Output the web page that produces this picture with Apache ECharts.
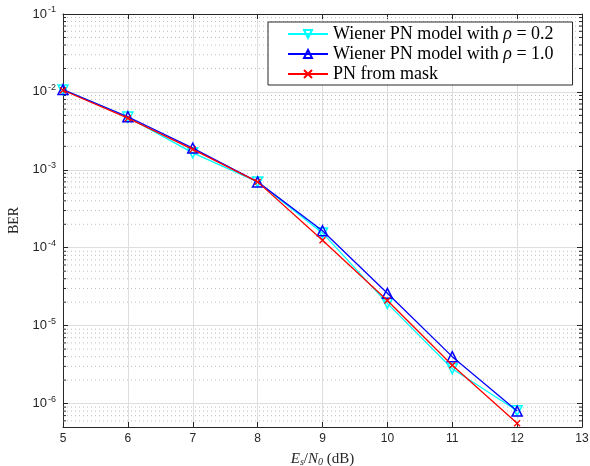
<!DOCTYPE html>
<html><head><meta charset="utf-8">
<script src="https://cdn.jsdelivr.net/npm/echarts@6/dist/echarts.min.js"></script>
<style>html,body{margin:0;padding:0;background:#fff}#c{width:590px;height:466px}</style>
</head><body><div id="c"></div>
<script>
const snr = [5, 6, 7, 8, 9, 10, 11, 12];
const berRho02 = [1.06e-2, 4.75e-3, 1.65e-3, 7.0e-4, 1.55e-4, 1.93e-5, 2.8e-6, 8.1e-7];
const berRho10 = [1.07e-2, 4.8e-3, 1.9e-3, 7.0e-4, 1.65e-4, 2.6e-5, 4.0e-6, 8.0e-7];
const berMask = [1.05e-2, 4.6e-3, 1.83e-3, 7.0e-4, 1.25e-4, 2.1e-5, 3.1e-6, 5.6e-7];
const seriesNames = ['Wiener PN model with \u03c1 = 0.2', 'Wiener PN model with \u03c1 = 1.0', 'PN from mask'];
const xMin = 5, xMax = 13;
const yMin = 5e-7, yMax = 1e-1;
const minorMantissas = [2, 3, 4, 5, 6, 7, 8, 9];
const decades = [-7, -6, -5, -4, -3, -2];

const minorVals = [];
decades.forEach(d => minorMantissas.forEach(m => {
  const v = m * Math.pow(10, d);
  if (v > yMin && v < yMax) minorVals.push(+v.toPrecision(3));
}));

const axisColor = '#262626';
const serif = '"Liberation Serif", "DejaVu Serif", serif';
const sans = '"Liberation Sans", Arial, Helvetica, sans-serif';

function pair(ys) { return snr.map((x, i) => [x, ys[i]]); }

const chart = echarts.init(document.getElementById('c'), null, {renderer: 'canvas'});
const yLabel = v => {
  const e = Math.round(Math.log10(v));
  return '{b|10}{s|' + e + '}';
};
function renderMinor(params, api) {
  const v = api.value(1);
  const a = api.coord([xMin, v]);
  const b = api.coord([xMax, v]);
  return {
    type: 'group',
    children: [
      {type: 'line', shape: {x1: a[0], y1: a[1], x2: b[0], y2: b[1]},
       style: {stroke: '#bebebe', lineWidth: 1, lineDash: [1, 3]}},
      {type: 'line', shape: {x1: a[0], y1: a[1], x2: a[0] + 3, y2: a[1]},
       style: {stroke: axisColor, lineWidth: 1}},
      {type: 'line', shape: {x1: b[0] - 3, y1: b[1], x2: b[0], y2: b[1]},
       style: {stroke: axisColor, lineWidth: 1}}
    ]
  };
}
chart.setOption({
  animation: false,
  backgroundColor: '#fff',
  grid: {left: 63, right: 8, top: 14, bottom: 39, containLabel: false, outerBoundsMode: 'none'},
  xAxis: [{
    type: 'value', min: xMin, max: xMax, interval: 1, position: 'bottom',
    axisLine: {show: true, onZero: false, lineStyle: {color: axisColor, width: 1}},
    axisTick: {show: true, inside: true, length: 5, lineStyle: {color: axisColor}},
    axisLabel: {color: axisColor, fontSize: 12, fontFamily: sans, margin: 6},
    splitLine: {show: true, lineStyle: {color: '#dedede', width: 1}},
    name: '{i|E}{sb|s}{n|/}{i|N}{sb|0}{n| (dB)}',
    nameLocation: 'middle', nameGap: 24,
    nameTextStyle: {
      rich: {
        i: {fontFamily: serif, fontStyle: 'italic', fontSize: 15, color: axisColor},
        n: {fontFamily: serif, fontSize: 15, color: axisColor},
        sb: {fontFamily: serif, fontStyle: 'italic', fontSize: 10, color: axisColor, padding: [6, 0, 0, 0]}
      }
    }
  }, {
    type: 'value', min: xMin, max: xMax, interval: 1, position: 'top',
    axisLine: {show: true, onZero: false, lineStyle: {color: axisColor, width: 1}},
    axisTick: {show: true, inside: true, length: 5, lineStyle: {color: axisColor}},
    axisLabel: {show: false}, splitLine: {show: false}
  }],
  yAxis: [{
    type: 'log', logBase: 10, min: yMin, max: yMax, position: 'left',
    axisLine: {show: true, onZero: false, lineStyle: {color: axisColor, width: 1}},
    axisTick: {show: true, inside: true, length: 5, lineStyle: {color: axisColor}},
    axisLabel: {
      showMinLabel: false, margin: 7, formatter: yLabel,
      rich: {
        b: {fontFamily: sans, fontSize: 13, color: axisColor},
        s: {fontFamily: sans, fontSize: 9, color: axisColor, padding: [0, 0, 9, 1]}
      }
    },
    splitLine: {show: true, lineStyle: {color: '#dedede', width: 1}},
    name: 'BER', nameLocation: 'middle', nameGap: 36, nameRotate: 90,
    nameTextStyle: {fontFamily: serif, fontSize: 14, color: axisColor}
  }, {
    type: 'log', logBase: 10, min: yMin, max: yMax, position: 'right',
    axisLine: {show: true, onZero: false, lineStyle: {color: axisColor, width: 1}},
    axisTick: {show: true, inside: true, length: 5, lineStyle: {color: axisColor}},
    axisLabel: {show: false}, splitLine: {show: false}
  }],
  legend: {
    orient: 'vertical', left: 268, top: 22,
    backgroundColor: '#fff', borderColor: axisColor, borderWidth: 1,
    padding: [3, 19, 2, 19], itemGap: 2, itemWidth: 40, itemHeight: 10,
    data: seriesNames,
    textStyle: {
      fontFamily: serif, fontSize: 18, color: '#000',
      rich: {
        t: {fontFamily: serif, fontSize: 18, color: '#000'},
        g: {fontFamily: serif, fontSize: 18, fontStyle: 'italic', color: '#000'}
      }
    },
    formatter: n => {
      const parts = n.split('\u03c1');
      return parts.length > 1 ? '{t|' + parts[0] + '}{g|\u03c1}{t|' + parts[1] + '}' : '{t|' + n + '}';
    }
  },
  series: [{
    name: 'minorgrid', type: 'custom', silent: true, z: 1, clip: false,
    renderItem: renderMinor,
    data: minorVals.map(v => [xMin, v])
  }, {
    name: seriesNames[0], type: 'line', data: pair(berRho02), z: 3,
    symbol: 'triangle', symbolRotate: 180, symbolSize: 10,
    lineStyle: {color: '#00ffff', width: 1.3},
    itemStyle: {color: 'rgba(0,0,0,0)', borderColor: '#00ffff', borderWidth: 1.5}
  }, {
    name: seriesNames[1], type: 'line', data: pair(berRho10), z: 4,
    symbol: 'triangle', symbolSize: 10,
    lineStyle: {color: '#0000ff', width: 1.3},
    itemStyle: {color: 'rgba(0,0,0,0)', borderColor: '#0000ff', borderWidth: 1.5}
  }, {
    name: seriesNames[2], type: 'line', data: pair(berMask), z: 5,
    symbol: 'path://M0,0L10,10M10,0L0,10', symbolSize: 6,
    lineStyle: {color: '#ff0000', width: 1.3},
    itemStyle: {color: 'rgba(0,0,0,0)', borderColor: '#ff0000', borderWidth: 1.3}
  }]
});
</script></body></html>
